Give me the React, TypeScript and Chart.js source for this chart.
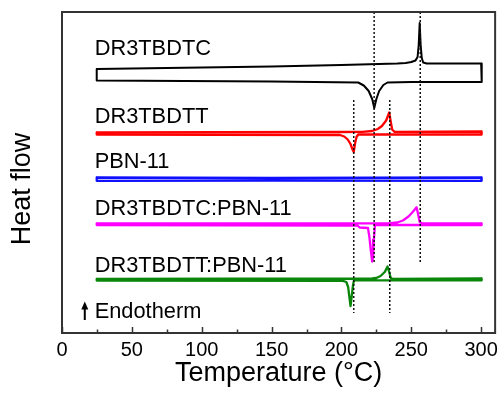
import React, { useEffect, useRef } from 'react';
import { Chart, registerables } from 'chart.js';
Chart.register(...registerables);

const FONT = '"Liberation Sans", Arial, Helvetica, sans-serif';

// Temperature axis (°C)
const xMin = 0;
const xMax = 310;
const majorTicks = [0, 50, 100, 150, 200, 250, 300];
const minorTicks = [25, 75, 125, 175, 225, 275];
// Heat flow axis (arbitrary units, endotherm up)
const yMin = 0;
const yMax = 321;

// DR3TBDTC (black)
const dtcHeatT = [25, 100, 150, 200, 240, 246, 250, 253, 254.5, 255.3, 256, 256.7, 257.5, 258.5, 261, 300, 300.6];
const dtcHeatY = [264, 265.5, 266.5, 268, 269.5, 270, 271, 272.5, 276, 288, 310, 288, 275, 270.5, 269.5, 269.5, 267];
const dtcCoolT = [300.6, 300, 250, 233, 230, 227, 225, 223.5, 222, 219.5, 216, 212, 150, 25, 24.7];
const dtcCoolY = [254, 251, 251, 250.5, 248, 242, 234, 225, 234, 242, 247.5, 250.5, 251.5, 252.5, 258];

// DR3TBDTT (red)
const dttHeatT = [25, 200, 215, 222, 226, 229, 232, 234.2, 235.2, 236.3, 238, 300, 300.5];
const dttHeatY = [200.5, 201, 201.2, 202, 204, 207, 212.5, 220.5, 212, 203.5, 201.2, 201.5, 200.5];
const dttCoolT = [300.5, 300, 212, 210.8, 209.8, 208.8, 207.8, 206.5, 204.5, 202, 199, 25, 24.7];
const dttCoolY = [199.5, 198.5, 198.5, 196, 190, 181, 184, 189, 193.5, 196.5, 198, 198.5, 199.5];

// PBN-11 (blue)
const pbnHeatT = [25, 150, 300, 300.5];
const pbnHeatY = [155.5, 155, 155.5, 154];
const pbnCoolT = [300.5, 300, 150, 25, 24.7];
const pbnCoolY = [153, 152.2, 152.5, 152.2, 153.5];

// DR3TBDTC:PBN-11 (magenta)
const dtcPbnHeatT = [25, 235, 240, 244, 248, 251, 253.8, 255, 256, 258, 300, 300.5];
const dtcPbnHeatY = [109.5, 109.8, 110.5, 112.5, 116.5, 121, 125.7, 118, 111, 109.5, 109.7, 109];
const dtcPbnCoolT = [300.5, 300, 224, 223.2, 222.6, 222, 221, 220, 219, 213, 211.5, 25, 24.7];
const dtcPbnCoolY = [108.5, 108, 108, 93, 75, 71.5, 83, 96, 105, 105.5, 107.5, 108, 108.8];

// DR3TBDTT:PBN-11 (green)
const dttPbnHeatT = [25, 222, 225, 228, 231, 233, 234, 235.3, 237, 300, 300.5];
const dttPbnHeatY = [54, 54.5, 55, 57, 61, 66.5, 62, 55, 54, 54.5, 54];
const dttPbnCoolT = [300.5, 300, 209, 208.3, 207.3, 206.5, 205.7, 204.8, 203.5, 201, 25, 24.7];
const dttPbnCoolY = [53.2, 52.7, 52.7, 48, 36, 27, 36, 46, 51, 52.2, 52.5, 53.2];

// Dotted guide lines
const guideT = [208.8, 223.4, 234.6, 256.4];
const guideTop = [233, 321, 233, 321];
const guideBottom = [20, 70, 20, 70];

// Curve labels
const labelTexts = ['DR3TBDTC', 'DR3TBDTT', 'PBN-11', 'DR3TBDTC:PBN-11', 'DR3TBDTT:PBN-11', 'Endotherm'];
const labelT = [23.4, 23.4, 23.4, 23.4, 23.4, 23.4];
const labelY = [278, 210, 164.7, 118, 61.3, 14.7];

// Endotherm arrow
const arrowT = 16.3;
const arrowFromY = 13;
const arrowToY = 31.5;

const xTitle = 'Temperature (°C)';
const yTitle = 'Heat flow';

function loop(hT: number[], hY: number[], cT: number[], cY: number[]) {
  const pts = hT.map((t, i) => ({ x: t, y: hY[i] }));
  cT.forEach((t, i) => pts.push({ x: t, y: cY[i] }));
  pts.push({ x: hT[0], y: hY[0] });
  return pts;
}

const decor = {
  id: 'decor',
  afterDatasetsDraw(chart: any) {
    const { ctx, chartArea: a, scales } = chart;
    const xs = scales.x;
    const ys = scales.y;
    ctx.save();
    // frame
    ctx.strokeStyle = '#333';
    ctx.lineWidth = 2;
    ctx.strokeRect(a.left, a.top, a.right - a.left, a.bottom - a.top);
    // inward ticks on bottom
    ctx.lineWidth = 1.5;
    majorTicks.forEach((t) => {
      const px = Math.round(xs.getPixelForValue(t)) + 0.5;
      ctx.beginPath();
      ctx.moveTo(px, a.bottom);
      ctx.lineTo(px, a.bottom - 6);
      ctx.stroke();
    });
    minorTicks.forEach((t) => {
      const px = Math.round(xs.getPixelForValue(t)) + 0.5;
      ctx.beginPath();
      ctx.moveTo(px, a.bottom);
      ctx.lineTo(px, a.bottom - 3.5);
      ctx.stroke();
    });
    // labels
    ctx.fillStyle = '#000';
    ctx.font = `21.8px ${FONT}`;
    ctx.textAlign = 'left';
    ctx.textBaseline = 'alphabetic';
    labelTexts.forEach((s, i) => {
      ctx.fillText(s, xs.getPixelForValue(labelT[i]), ys.getPixelForValue(labelY[i]));
    });
    // arrow
    const ax = xs.getPixelForValue(arrowT);
    const y0 = ys.getPixelForValue(arrowFromY);
    const y1 = ys.getPixelForValue(arrowToY);
    ctx.strokeStyle = '#000';
    ctx.lineWidth = 2;
    ctx.beginPath();
    ctx.moveTo(ax, y0);
    ctx.lineTo(ax, y1 + 6);
    ctx.stroke();
    ctx.beginPath();
    ctx.moveTo(ax, y1);
    ctx.lineTo(ax - 3.5, y1 + 8);
    ctx.lineTo(ax + 3.5, y1 + 8);
    ctx.closePath();
    ctx.fill();
    // y title
    ctx.save();
    ctx.translate(22.5, 189);
    ctx.rotate(-Math.PI / 2);
    ctx.font = `27px ${FONT}`;
    ctx.textAlign = 'center';
    ctx.textBaseline = 'middle';
    ctx.fillText(yTitle, 0, 0);
    ctx.restore();
    ctx.restore();
  },
};

export default function App() {
  const ref = useRef<HTMLCanvasElement>(null);
  useEffect(() => {
    if (!ref.current) return;
    const line = (data: any[], color: string, w: number) => ({
      data,
      showLine: true,
      borderColor: color,
      backgroundColor: color,
      borderWidth: w,
      pointRadius: 0,
      tension: 0,
      fill: false,
      borderJoinStyle: 'round',
      borderCapStyle: 'round',
    });
    const guides = guideT.map((t, i) => ({
      data: [
        { x: t, y: guideTop[i] },
        { x: t, y: guideBottom[i] },
      ],
      showLine: true,
      borderColor: '#111',
      borderWidth: 1.5,
      borderDash: [2, 2],
      pointRadius: 0,
      fill: false,
    }));
    const chart = new Chart(ref.current, {
      type: 'scatter',
      data: {
        datasets: [
          ...guides,
          line(loop(dtcHeatT, dtcHeatY, dtcCoolT, dtcCoolY), '#000000', 2),
          line(loop(dttHeatT, dttHeatY, dttCoolT, dttCoolY), '#ff0000', 2.3),
          line(loop(pbnHeatT, pbnHeatY, pbnCoolT, pbnCoolY), '#1010ff', 2.3),
          line(loop(dtcPbnHeatT, dtcPbnHeatY, dtcPbnCoolT, dtcPbnCoolY), '#ff00ff', 2.3),
          line(loop(dttPbnHeatT, dttPbnHeatY, dttPbnCoolT, dttPbnCoolY), '#0a870a', 2.3),
        ] as any,
      },
      options: {
        responsive: false,
        animation: false,
        devicePixelRatio: 1,
        layout: { padding: { left: 62, top: 12, right: 5, bottom: 0 } },
        plugins: { legend: { display: false }, tooltip: { enabled: false } },
        scales: {
          x: {
            type: 'linear',
            min: xMin,
            max: xMax,
            grid: { display: false, drawTicks: false },
            border: { display: false },
            ticks: {
              stepSize: 50,
              includeBounds: false,
              padding: 5,
              color: '#000',
              font: { family: FONT, size: 20 },
            },
            afterBuildTicks: (s: any) => {
              s.ticks = majorTicks.map((v) => ({ value: v }));
            },
            afterFit: (s: any) => {
              s.height = 61;
            },
            title: {
              display: true,
              text: xTitle,
              color: '#000',
              font: { family: FONT, size: 27 },
              padding: { top: 0, bottom: 4.3 },
            },
          },
          y: {
            type: 'linear',
            min: yMin,
            max: yMax,
            display: false,
          },
        },
      } as any,
      plugins: [decor],
    });
    return () => chart.destroy();
  }, []);
  return (
    <div style={{ position: 'fixed', left: 0, top: 0, width: 503, height: 394, background: '#fff' }}>
      <canvas ref={ref} width={503} height={394} style={{ width: 503, height: 394, display: 'block' }} />
    </div>
  );
}
